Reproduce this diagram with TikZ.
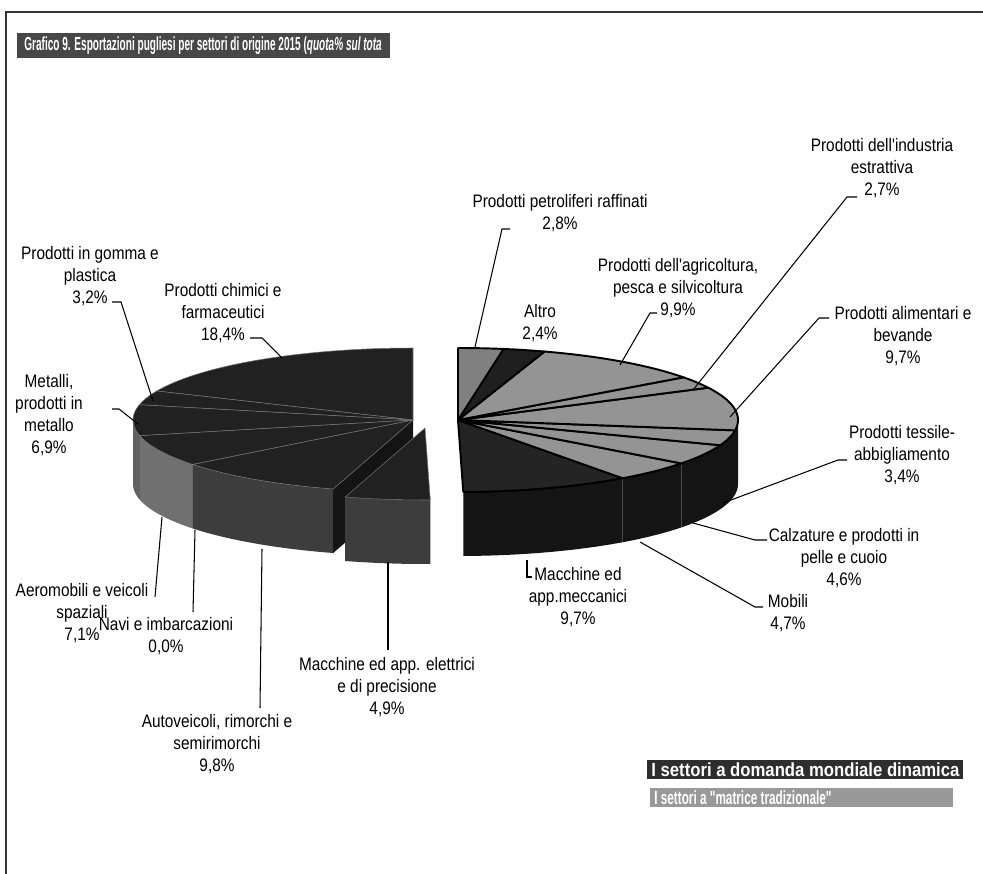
\documentclass[tikz,border=0pt]{standalone}
\usepackage{graphicx}
\usepackage{fontspec}
\setmainfont{Liberation Sans}
\newfontfamily\lblfont[FakeStretch=0.85]{Liberation Sans}

% pie geometry (pixel units)
\def\prx{280}
\def\pry{72}
\def\pdp{64}
\newcommand{\pietop}[5]{\path[#5] (#1,#2) -- plot[domain=#3:#4, samples=40] ({#1+\prx*cos(\x)}, {#2-\pry*sin(\x)}) -- cycle;}
\newcommand{\piewall}[5]{\path[#5] plot[domain=#3:#4, samples=40] ({#1+\prx*cos(\x)}, {#2-\pry*sin(\x)}) -- plot[domain=#4:#3, samples=40] ({#1+\prx*cos(\x)}, {#2+\pdp-\pry*sin(\x)}) -- cycle;}

\begin{document}
\begin{tikzpicture}[x=0.02cm, y=-0.02cm,
    lbl/.style = {font=\lblfont\fontsize{10.3}{12.5}\selectfont, align=center, inner sep=1pt},
    barlbl/.style = {anchor=west, inner sep=0pt, text=white, font=\bfseries\fontsize{10.8}{12}\selectfont},
    leader/.style = {draw=black, line width=0.6pt},
    dyntop/.style = {fill=black!87, draw=black!55, line width=0.3pt},
    dynwall/.style = {fill=black!76},
    cutwall/.style = {fill=black!92},
    tradtop/.style = {fill=black!42, draw=black, line width=1.1pt, line join=round},
    tradwall/.style = {fill=black!92}]
    \useasboundingbox (0,0) rectangle (983,874);
    \draw[black!80, line width=0.8pt] (6,874) -- (6,12) -- (983,12);

    % title
    \fill[black!72] (17,33) rectangle (390,58);
    \begin{scope}
        \clip (17,33) rectangle (390,58);
        \node[barlbl] (title) at (24,46)
            {\scalebox{0.53}[1]{Grafico 9. Esportazioni pugliesi per settori di origine 2015 (\textit{quota\% sul tota}}};
    \end{scope}

    % left piece: dynamic sectors
    \piewall{413}{420}{180}{192.6}{fill=black!62}
    \piewall{413}{420}{192.6}{218.16}{fill=black!56}
    \piewall{413}{420}{218.16}{253.44}{dynwall}
    \path[cutwall] (413,420) -- ({413+\prx*cos(253.44)},{420-\pry*sin(253.44)}) -- ++(0,\pdp) -- (413,484) -- cycle;
    \pietop{413}{420}{90}{156.24}{dyntop}
    \pietop{413}{420}{156.24}{167.76}{dyntop}
    \pietop{413}{420}{167.76}{192.6}{dyntop}
    \pietop{413}{420}{192.6}{218.16}{dyntop}
    \pietop{413}{420}{218.16}{253.44}{dyntop}
    % exploded slice
    \piewall{425}{428}{253.44}{271.08}{dynwall}
    \pietop{425}{428}{253.44}{271.08}{dyntop}

    % right piece: traditional sectors
    \piewall{458}{420}{271.08}{306}{tradwall}
    \piewall{458}{420}{306}{322.92}{tradwall}
    \piewall{458}{420}{322.92}{339.48}{tradwall}
    \piewall{458}{420}{339.48}{351.72}{tradwall}
    \piewall{458}{420}{351.72}{360}{tradwall}
    \pietop{458}{420}{271.08}{306}{tradtop, fill=black!86}
    \pietop{458}{420}{306}{322.92}{tradtop}
    \pietop{458}{420}{322.92}{339.48}{tradtop}
    \pietop{458}{420}{339.48}{351.72}{tradtop}
    \pietop{458}{420}{351.72}{386.64}{tradtop}
    \pietop{458}{420}{386.64}{396.36}{tradtop}
    \pietop{458}{420}{396.36}{432}{tradtop}
    \pietop{458}{420}{432}{440.64}{tradtop, fill=black!88}
    \pietop{458}{420}{440.64}{450}{tradtop, fill=black!50}

    % labels
    \node[lbl] (gomma) at (90,276) {Prodotti in gomma e\\plastica\\3,2\%};
    \node[lbl] (chimici) at (223,313) {Prodotti chimici e\\farmaceutici\\18,4\%};
    \node[lbl] (metalli) at (49,415) {Metalli,\\prodotti in\\metallo\\6,9\%};
    \node[lbl] (aeromobili) at (82,613) {Aeromobili e veicoli\\spaziali\\7,1\%};
    \node[lbl] (navi) at (166,636) {Navi e imbarcazioni\\0,0\%};
    \node[lbl] (autoveicoli) at (217,744) {Autoveicoli, rimorchi e\\semirimorchi\\9,8\%};
    \node[lbl] (elettrici) at (387,687) {Macchine ed app. elettrici\\e di precisione\\4,9\%};
    \node[lbl] (meccanici) at (578,597) {Macchine ed\\app.meccanici\\9,7\%};
    \node[lbl] (mobili) at (788,613) {Mobili\\4,7\%};
    \node[lbl] (calzature) at (844,558) {Calzature e prodotti in\\pelle e cuoio\\4,6\%};
    \node[lbl] (tessile) at (902,455) {Prodotti tessile-\\abbigliamento\\3,4\%};
    \node[lbl] (alimentari) at (903,336) {Prodotti alimentari e\\bevande\\9,7\%};
    \node[lbl] (estrattiva) at (882,168) {Prodotti dell'industria\\estrattiva\\2,7\%};
    \node[lbl] (agricoltura) at (678,288) {Prodotti dell'agricoltura,\\pesca e silvicoltura\\9,9\%};
    \node[lbl] (petroliferi) at (560,213) {Prodotti petroliferi raffinati\\2,8\%};
    \node[lbl] (altro) at (540,323) {Altro\\2,4\%};

    % leader ends
    \coordinate (gomma-in) at (112,302);        \coordinate (gomma-on) at (153,401);
    \coordinate (chimici-in) at (250,338);      \coordinate (chimici-on) at (282,358);
    \coordinate (metalli-in) at (112,409);      \coordinate (metalli-on) at (138,424);
    \coordinate (aeromobili-in) at (155,597);   \coordinate (aeromobili-on) at (162,517);
    \coordinate (navi-in) at (193,612);         \coordinate (navi-on) at (195,530);
    \coordinate (autoveicoli-in) at (260,708);  \coordinate (autoveicoli-on) at (262,549);
    \coordinate (elettrici-in) at (388,650);    \coordinate (elettrici-on) at (388,562);
    \coordinate (meccanici-in) at (532,577);    \coordinate (meccanici-on) at (527,560);
    \coordinate (mobili-in) at (763,607);       \coordinate (mobili-on) at (640,542);
    \coordinate (calzature-in) at (767,540);    \coordinate (calzature-on) at (693,523);
    \coordinate (tessile-in) at (847,460);      \coordinate (tessile-on) at (723,503);
    \coordinate (alimentari-in) at (829,318);   \coordinate (alimentari-on) at (730,417);
    \coordinate (estrattiva-in) at (857,197);   \coordinate (estrattiva-on) at (693,390);
    \coordinate (agricoltura-in) at (657,313);  \coordinate (agricoltura-on) at (620,365);
    \coordinate (petroliferi-in) at (510,229);  \coordinate (petroliferi-on) at (475,347);

    \draw[leader] (gomma-in) -- ++(9,0) -- (gomma-on);
    \draw[leader] (chimici-in) -- ++(12,0) -- (chimici-on);
    \draw[leader] (metalli-in) -- ++(7,0) -- (metalli-on);
    \draw[leader] (aeromobili-in) -- (aeromobili-on);
    \draw[leader] (navi-in) -- (navi-on);
    \draw[leader] (autoveicoli-in) -- (autoveicoli-on);
    \draw[leader] (elettrici-in) -- (elettrici-on);
    \draw[leader] (meccanici-in) -- ++(-5,0) -- (meccanici-on);
    \draw[leader] (mobili-in) -- ++(-8,0) -- (mobili-on);
    \draw[leader] (calzature-in) -- ++(-12,0) -- (calzature-on);
    \draw[leader] (tessile-in) -- ++(-9,0) -- (tessile-on);
    \draw[leader] (alimentari-in) -- ++(-10,0) -- (alimentari-on);
    \draw[leader] (estrattiva-in) -- ++(-10,0) -- (estrattiva-on);
    \draw[leader] (agricoltura-in) -- ++(-7,0) -- (agricoltura-on);
    \draw[leader] (petroliferi-in) -- ++(-8,0) -- (petroliferi-on);

    % legend
    \fill[black!82] (647,760) rectangle (963,779);
    \node[barlbl] (dinamica) at (651,769.5) {\scalebox{0.88}[1]{I settori a domanda mondiale dinamica}};
    \fill[black!40] (650,788) rectangle (953,807);
    \node[barlbl] (tradizionale) at (654,797.5) {\scalebox{0.62}[1]{I settori a \textquotedbl matrice tradizionale\textquotedbl}};
\end{tikzpicture}
\end{document}
